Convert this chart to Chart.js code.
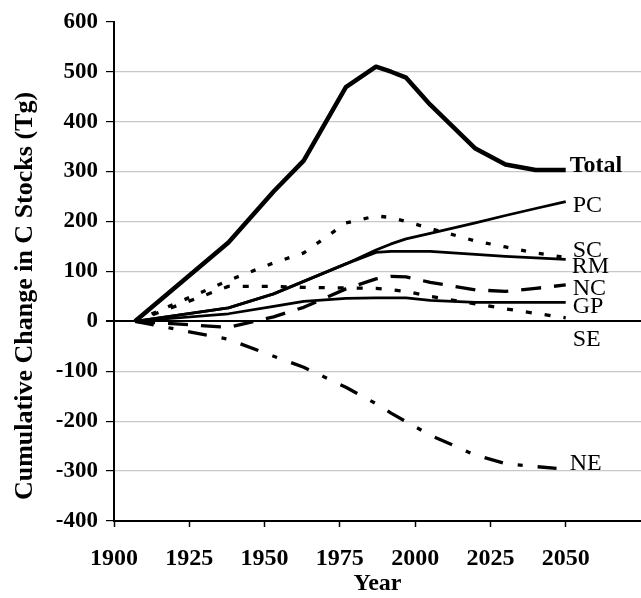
<!DOCTYPE html>
<html>
<head>
<meta charset="utf-8">
<script src="https://cdn.jsdelivr.net/npm/chart.js@4/dist/chart.umd.min.js"></script>
<style>
  html, body { margin: 0; padding: 0; background: #fff; }
  #wrap { width: 641px; height: 598px; }
</style>
</head>
<body>
<div id="wrap"><canvas id="carbonChart" width="641" height="598"></canvas></div>
<script>
// years of the model runs, shared by every region
const years = [1907, 1938, 1953, 1963, 1977, 1987, 1992, 1997, 2005, 2020, 2030, 2040, 2050];

// cumulative change in C stocks (Tg)
const total = [0, 158, 260, 322, 469, 510, 500, 488, 434, 346, 314, 303, 303];
const pc    = [0, 27, 55, 80, 115, 143, 155, 165, 176, 197, 212, 226, 240];
const sc    = [0, 82, 117, 137, 197, 211, 208, 200, 186, 161, 149, 137, 128];
const rm    = [0, 27, 55, 80, 115, 138, 140, 140, 140, 134, 130, 127, 124];
const nc    = [0, -12, 9, 28, 65, 85, 90, 89, 78, 63, 60, 66, 73];
const gp    = [0, 15, 30, 40, 46, 47, 47, 47, 42, 38, 38, 38, 38];
const se    = [0, 70, 70, 68, 67, 66, 63, 60, 50, 35, 25, 16, 7];
const ne    = [0, -36, -70, -92, -132, -165, -184, -201, -228, -268, -285, -291, -296];

const regionNames = ['Total', 'PC', 'SC', 'RM', 'NC', 'GP', 'SE', 'NE'];
const xTicks = [1900, 1925, 1950, 1975, 2000, 2025, 2050];
const yTitle = 'Cumulative Change in C Stocks (Tg)';

const serif = "'Liberation Serif', 'Times New Roman', serif";

const toXY = vals => years.map((yr, i) => ({ x: yr, y: vals[i] }));

function line(label, vals, width, dash) {
    return {
        label: label,
        data: toXY(vals),
        borderColor: '#000',
        borderWidth: width,
        borderDash: dash,
        borderCapStyle: 'butt',
        borderJoinStyle: 'round',
        pointRadius: 0,
        tension: 0,
        fill: false
    };
}

// where the region names sit next to the line ends (pixels from the last point)
const labelOffsets = {
    Total: [4, 1.5], PC: [7, 10.5], SC: [7, 0], RM: [6, 14],
    NC: [7, 10.5], GP: [7, 11], SE: [7, 28], NE: [4, 0.5]
};

const endLabels = {
    id: 'endLabels',
    afterDatasetsDraw(chart) {
        const ctx = chart.ctx;
        const xs = chart.scales.x, ys = chart.scales.y;
        ctx.save();
        ctx.fillStyle = '#000';
        ctx.textBaseline = 'alphabetic';
        ctx.textAlign = 'left';
        chart.data.datasets.forEach(ds => {
            const last = ds.data[ds.data.length - 1];
            const off = labelOffsets[ds.label];
            ctx.font = (ds.label === 'Total' ? 'bold ' : '') + '24px ' + serif;
            ctx.fillText(ds.label, xs.getPixelForValue(last.x) + off[0], ys.getPixelForValue(last.y) + off[1]);
        });

        // y axis title, sits a little below the middle of the axis like the original
        ctx.translate(25, 296);
        ctx.rotate(-Math.PI / 2);
        ctx.textAlign = 'center';
        ctx.textBaseline = 'middle';
        ctx.font = 'bold 26px ' + serif;
        ctx.fillText(yTitle, 0, 0);
        ctx.restore();
    }
};

const ctx = document.getElementById('carbonChart').getContext('2d');
new Chart(ctx, {
    type: 'line',
    data: {
        datasets: [
            line(regionNames[0], total, 4.5, []),
            line(regionNames[1], pc, 2.8, []),
            line(regionNames[2], sc, 3.3, [5, 13]),
            line(regionNames[3], rm, 2.8, []),
            line(regionNames[4], nc, 3.3, [20, 13]),
            line(regionNames[5], gp, 2.6, []),
            line(regionNames[6], se, 3.3, [6, 13]),
            line(regionNames[7], ne, 3.3, [19, 15, 5, 15])
        ]
    },
    options: {
        responsive: false,
        animation: false,
        layout: { padding: { top: 21, right: 0, left: 0, bottom: 0 } },
        plugins: { legend: { display: false }, tooltip: { enabled: false } },
        scales: {
            x: {
                type: 'linear',
                min: 1900,
                max: 2075,
                afterBuildTicks: axis => { axis.ticks = xTicks.map(v => ({ value: v })); },
                afterFit: axis => { axis.height = 77; },
                ticks: {
                    color: '#000',
                    padding: 17,
                    maxRotation: 0,
                    callback: v => String(v),
                    font: { family: serif, size: 24, weight: 'bold' }
                },
                grid: { drawOnChartArea: false, tickLength: 6, tickColor: '#000', tickWidth: 1.5 },
                border: { color: '#000', width: 2 },
                title: {
                    display: true,
                    text: 'Year',
                    color: '#000',
                    padding: { top: -6, bottom: 0 },
                    font: { family: serif, size: 24, weight: 'bold' }
                }
            },
            y: {
                min: -400,
                max: 600,
                afterFit: axis => { axis.width = 114; },
                ticks: {
                    stepSize: 100,
                    color: '#000',
                    padding: 8,
                    font: { family: serif, size: 23, weight: 'bold' }
                },
                grid: {
                    tickLength: 8,
                    tickColor: '#000',
                    color: c => c.tick.value === 0 ? '#000' : (c.tick.value === 600 ? 'rgba(0,0,0,0)' : '#c8c8c8'),
                    lineWidth: c => c.tick.value === 0 ? 2 : 1.2
                },
                border: { color: '#000', width: 2 }
            }
        }
    },
    plugins: [endLabels]
});
</script>
</body>
</html>
